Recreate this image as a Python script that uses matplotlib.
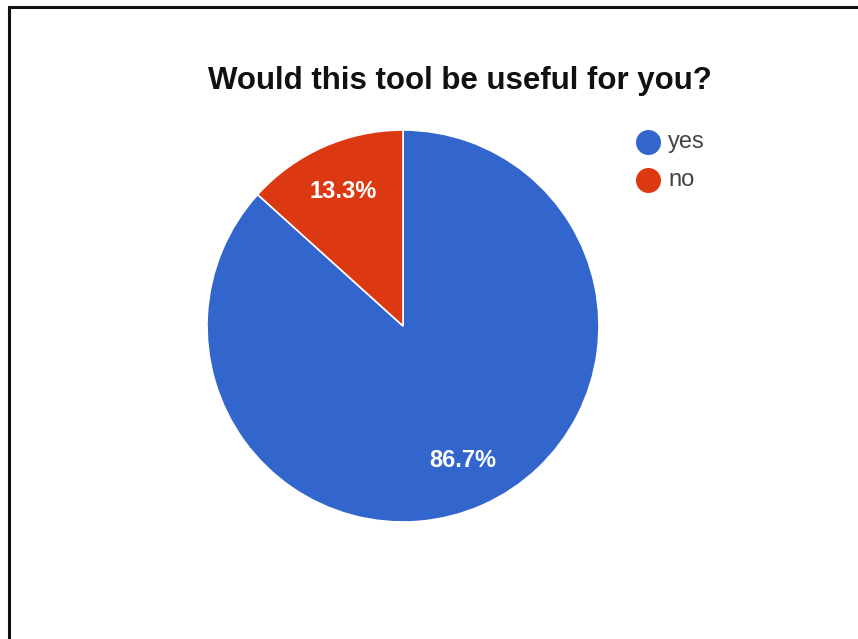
import matplotlib.pyplot as plt
from matplotlib.lines import Line2D

labels = ["yes", "no"]
shares = [86.7, 13.3]
colors = ["#3366CC", "#DC3912"]
title = "Would this tool be useful for you?"

W, H = 858, 639
fig = plt.figure(figsize=(W / 100, H / 100), dpi=100)
plt.rcParams['font.family'] = ['Liberation Sans', 'DejaVu Sans']

# pie placed by pixel centre / radius
cx, cy, r = 403, 326, 196
ax = fig.add_axes([(cx - r) / W, (H - cy - r) / H, 2 * r / W, 2 * r / H])
wedges, texts, autotexts = ax.pie(
    shares, colors=colors, startangle=90, counterclock=False,
    autopct="%.1f%%", pctdistance=0.75,
    wedgeprops=dict(edgecolor="white", linewidth=1.2),
    textprops=dict(color="white", fontsize=17, fontweight="bold"))
ax.set_xlim(-1, 1)
ax.set_ylim(-1, 1)
ax.set_aspect("equal")
ax.axis("off")

fig.text(460 / W, 1 - 81 / H, title, ha="center", va="center",
         fontsize=22.5, fontweight="bold", color="#111111")

# legend drawn by hand: dot + label
for i, (lab, c) in enumerate(zip(labels, colors)):
    y = 1 - (142 + 38 * i) / H
    fig.add_artist(Line2D([648 / W], [y], marker="o", markersize=17,
                          markerfacecolor=c, markeredgecolor=c, linestyle=""))
    fig.text(668 / W, y, lab, ha="left", va="center", fontsize=17, color="#444444")

# border lines along top and left like the screenshot
fig.add_artist(Line2D([9 / W, 1], [1 - 7 / H, 1 - 7 / H], color="#111111", lw=2.2))
fig.add_artist(Line2D([9 / W, 9 / W], [0, 1 - 7 / H], color="#111111", lw=2.2))

fig.savefig("out.png", dpi=100)
